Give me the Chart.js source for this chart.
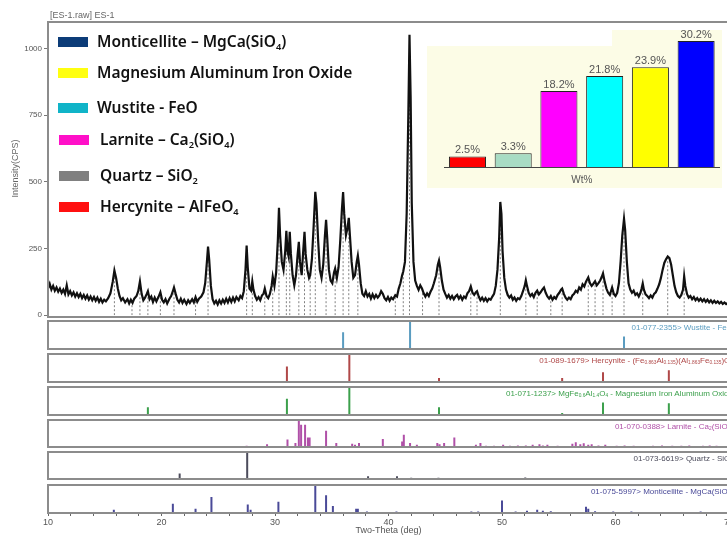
<!DOCTYPE html>
<html>
<head>
<meta charset="utf-8">
<script src="https://cdn.jsdelivr.net/npm/chart.js@4.4.1/dist/chart.umd.min.js"></script>
<style>
  html, body { margin: 0; padding: 0; background: #fff; width: 727px; height: 538px; overflow: hidden; }
  #wrap { position: relative; width: 760px; height: 538px; }
  canvas { position: absolute; }
  .legend-row { position: absolute; height: 20px; line-height: 20px; font-family: "Noto Sans", sans-serif; font-weight: 600; font-size: 15.5px; color: #111; white-space: nowrap; }
  .legend-box { position: absolute; width: 30px; height: 10px; }
  .ref-label { position: absolute; right: 27px; font-family: "Liberation Sans", Arial, sans-serif; font-size: 8px; white-space: nowrap; line-height: 10px; }
  .frame { position: absolute; left: 47px; width: 682px; box-sizing: border-box; border: 2px solid #8c8c8c; pointer-events: none; }
  sub { font-size: 0.6em; vertical-align: -0.3em; line-height: 0; }
  #title { position: absolute; left: 50px; top: 10px; font-family: "Liberation Sans", Arial, sans-serif; font-size: 9px; color: #666; }
</style>
</head>
<body>
<div id="wrap">
  <canvas id="main" width="760" height="322" style="left:0;top:0"></canvas>
  <canvas id="p0" width="760" height="30" style="left:0;top:320px"></canvas>
  <canvas id="p1" width="760" height="30" style="left:0;top:353px"></canvas>
  <canvas id="p2" width="760" height="30" style="left:0;top:386px"></canvas>
  <canvas id="p3" width="760" height="29" style="left:0;top:419px"></canvas>
  <canvas id="p4" width="760" height="29" style="left:0;top:451px"></canvas>
  <canvas id="p5" width="760" height="54" style="left:0;top:484px"></canvas>
  <canvas id="inset" width="295" height="158" style="left:427px;top:30px"></canvas>
  <div id="title">[ES-1.raw] ES-1</div>
</div>
<script>
// Measured pattern: [two-theta (deg), intensity (CPS)]
const spectrum = [
  [10.0,100],[10.15,118],[10.3,96],[10.45,110],[10.6,92],[10.75,104],[10.9,88],[11.05,100],[11.2,84],[11.35,96],
  [11.5,80],[11.65,112],[11.8,78],[11.95,90],[12.1,74],[12.25,86],[12.4,70],[12.55,82],[12.7,68],[12.85,80],
  [13.0,64],[13.15,76],[13.3,62],[13.45,74],[13.6,58],[13.75,70],[13.9,56],[14.05,68],[14.2,54],[14.35,66],
  [14.5,50],[14.65,62],[14.8,48],[14.95,58],[15.1,52],[15.3,64],[15.5,82],[15.7,125],[15.85,168],[16.0,140],
  [16.15,100],[16.3,72],[16.45,56],[16.6,64],[16.8,48],[17.0,60],[17.15,44],[17.3,58],[17.45,46],[17.6,62],
  [17.8,72],[17.95,90],[18.1,127],[18.25,80],[18.4,56],[18.55,66],[18.7,80],[18.8,90],[18.95,60],[19.1,70],
  [19.25,50],[19.4,66],[19.55,52],[19.75,70],[19.9,86],[20.05,58],[20.2,48],[20.35,60],[20.5,44],[20.7,62],
  [20.85,72],[21.0,90],[21.1,104],[21.25,80],[21.4,58],[21.55,48],[21.7,62],[21.85,46],[22.0,58],[22.2,42],
  [22.35,56],[22.5,46],[22.7,60],[22.85,48],[23.0,68],[23.15,50],[23.3,62],[23.5,70],[23.7,86],[23.85,120],
  [24.0,200],[24.1,257],[24.2,210],[24.35,110],[24.5,60],[24.65,44],[24.8,54],[24.95,40],[25.1,56],[25.25,44],
  [25.4,58],[25.55,46],[25.7,62],[25.85,48],[26.0,64],[26.15,50],[26.3,66],[26.45,52],[26.6,68],[26.8,56],
  [26.95,72],[27.1,64],[27.25,90],[27.4,170],[27.5,261],[27.6,180],[27.75,100],[27.9,92],[28.0,127],[28.1,96],
  [28.25,72],[28.4,58],[28.55,68],[28.7,56],[28.85,74],[29.0,82],[29.1,100],[29.25,72],[29.4,64],[29.55,80],
  [29.7,110],[29.8,145],[29.95,110],[30.1,160],[30.25,280],[30.35,403],[30.45,300],[30.6,200],[30.75,170],[30.9,240],
  [31.0,317],[31.1,240],[31.2,220],[31.3,313],[31.4,230],[31.55,150],[31.7,112],[31.85,150],[32.0,230],[32.1,275],
  [32.2,200],[32.35,150],[32.5,250],[32.6,313],[32.7,230],[32.85,170],[33.0,140],[33.1,150],[33.25,210],[33.4,330],
  [33.55,463],[33.65,420],[33.8,280],[33.95,170],[34.1,140],[34.25,190],[34.4,300],[34.5,358],[34.6,290],[34.75,170],
  [34.9,130],[35.05,120],[35.2,160],[35.3,175],[35.45,140],[35.6,180],[35.75,280],[35.9,400],[36.0,462],[36.1,380],
  [36.25,300],[36.4,330],[36.5,365],[36.6,300],[36.75,200],[36.9,140],[37.05,150],[37.2,200],[37.3,224],[37.4,190],
  [37.55,120],[37.7,80],[37.85,72],[38.0,90],[38.15,70],[38.3,80],[38.45,62],[38.6,78],[38.75,64],[38.9,76],
  [39.05,66],[39.2,74],[39.35,90],[39.5,80],[39.65,64],[39.8,56],[39.95,68],[40.1,54],[40.25,66],[40.4,60],
  [40.6,75],[40.75,70],[40.9,100],[41.05,120],[41.2,150],[41.3,164],[41.45,200],[41.6,380],[41.75,760],[41.85,1052],
  [41.95,820],[42.05,420],[42.2,200],[42.35,130],[42.5,110],[42.65,95],[42.8,112],[42.95,100],[43.1,82],[43.25,70],
  [43.4,82],[43.55,72],[43.7,88],[43.85,100],[44.0,120],[44.2,150],[44.35,190],[44.45,205],[44.55,180],[44.7,130],
  [44.85,96],[45.0,80],[45.15,66],[45.3,76],[45.45,62],[45.6,72],[45.75,60],[45.9,70],[46.05,76],[46.2,62],
  [46.35,72],[46.5,58],[46.65,70],[46.8,64],[46.95,82],[47.1,90],[47.25,108],[47.4,84],[47.55,76],[47.7,86],
  [47.8,90],[47.95,70],[48.1,56],[48.25,66],[48.4,54],[48.55,64],[48.7,52],[48.85,62],[49.0,58],[49.15,70],
  [49.3,80],[49.45,110],[49.6,170],[49.75,290],[49.85,425],[49.95,380],[50.05,240],[50.2,140],[50.35,96],[50.5,76],
  [50.65,66],[50.8,74],[50.95,58],[51.1,66],[51.25,54],[51.4,64],[51.55,60],[51.7,72],[51.85,90],[52.0,110],
  [52.1,131],[52.2,110],[52.35,84],[52.5,72],[52.65,80],[52.8,68],[52.95,84],[53.1,92],[53.25,78],[53.4,86],
  [53.55,96],[53.7,104],[53.85,84],[54.0,70],[54.15,62],[54.3,72],[54.45,58],[54.6,68],[54.75,62],[54.9,76],
  [55.05,84],[55.2,96],[55.3,100],[55.45,80],[55.6,66],[55.75,58],[55.9,66],[56.05,60],[56.2,74],[56.35,80],
  [56.5,92],[56.65,86],[56.8,104],[56.95,96],[57.1,116],[57.25,108],[57.4,126],[57.6,142],[57.75,120],[57.9,110],
  [58.05,118],[58.2,127],[58.35,112],[58.5,120],[58.65,130],[58.8,145],[58.9,157],[59.05,125],[59.2,100],[59.35,84],
  [59.5,76],[59.6,90],[59.7,104],[59.85,80],[60.0,72],[60.15,84],[60.3,120],[60.45,200],[60.6,300],[60.75,362],
  [60.85,320],[61.0,200],[61.15,120],[61.3,96],[61.45,84],[61.6,92],[61.75,76],[61.9,82],[62.05,70],[62.2,84],
  [62.3,100],[62.4,119],[62.5,96],[62.65,78],[62.8,72],[62.95,64],[63.1,74],[63.25,66],[63.4,80],[63.55,86],
  [63.7,100],[63.85,116],[64.0,140],[64.15,170],[64.3,196],[64.45,210],[64.6,220],[64.75,214],[64.9,190],[65.05,150],
  [65.2,110],[65.35,86],[65.5,72],[65.65,66],[65.8,76],[65.95,96],[66.05,146],[66.15,110],[66.3,80],[66.45,66],
  [66.6,72],[66.75,60],[66.9,68],[67.05,56],[67.2,64],[67.35,54],[67.5,62],[67.65,52],[67.8,60],[67.95,50],
  [68.1,58],[68.25,48],[68.4,56],[68.55,46],[68.7,54],[68.85,46],[69.0,52],[69.15,44],[69.3,50],[69.45,42],
  [69.6,48],[69.75,42],[69.9,46],[70.0,44]
];

// Identified peak markers (dotted lines)
const peakPos = [15.85, 17.4, 18.1, 18.8, 19.9, 21.1, 23.0, 24.1, 27.5, 28.0, 29.1, 29.8, 30.35, 31.0, 31.3, 32.1, 32.6, 33.1, 33.55, 34.5, 35.3, 36.0, 36.5, 37.3, 40.6, 41.3, 41.85, 43.0, 44.45, 47.25, 47.8, 49.85, 52.1, 53.1, 54.3, 55.3, 57.6, 58.2, 58.9, 59.7, 60.75, 62.4, 64.6, 66.05];
const peakTop = [165, 50, 125, 88, 85, 100, 65, 255, 260, 125, 98, 143, 400, 315, 310, 272, 310, 148, 460, 355, 172, 460, 362, 222, 73, 162, 1050, 98, 203, 106, 88, 422, 129, 90, 70, 98, 140, 125, 155, 102, 360, 117, 218, 144];

// Reference stick patterns (relative intensity %)
const wustitePos = [36.0, 41.9, 60.75];
const wustiteRel = [60, 100, 45];
const hercynitePos = [18.8, 31.05, 36.55, 44.45, 48.75, 55.3, 58.9, 64.7];
const hercyniteRel = [3, 55, 100, 14, 4, 14, 35, 42];
const mgAlFePos = [18.8, 31.05, 36.55, 44.45, 48.75, 55.3, 58.9, 64.7];
const mgAlFeRel = [28, 58, 100, 28, 3, 7, 45, 42];
const larnitePos = [18.1, 19.2, 23.2, 23.6, 26.5, 27.5, 28.1, 29.3, 31.1, 31.8, 32.1, 32.3, 32.65, 32.9, 33.05, 34.5, 35.4, 36.0, 36.8, 37.05, 37.4, 38.8, 39.0, 39.5, 41.2, 41.35, 41.9, 42.5, 43.3, 43.5, 44.3, 44.5, 44.9, 45.8, 47.7, 48.1, 48.6, 49.3, 50.1, 50.7, 51.4, 52.1, 52.7, 53.3, 53.6, 54.0, 54.9, 56.2, 56.5, 56.9, 57.2, 57.6, 57.9, 58.5, 59.1, 60.1, 60.8, 61.6, 63.3, 64.1, 65.0, 65.8, 66.5, 67.7, 68.3, 68.9, 69.5];
const larniteRel = [4, 4, 4, 4, 4, 5, 4, 10, 28, 15, 100, 82, 82, 35, 35, 60, 15, 3, 12, 8, 15, 3, 3, 30, 20, 45, 15, 8, 4, 4, 15, 10, 15, 35, 8, 15, 5, 5, 8, 5, 6, 6, 8, 10, 6, 8, 5, 12, 18, 10, 14, 8, 10, 6, 8, 5, 6, 5, 5, 6, 5, 5, 6, 5, 6, 5, 4];
const quartzPos = [21.6, 27.55, 38.2, 40.75, 42.0, 44.4, 47.8, 52.05, 57.1, 61.9, 66.4];
const quartzRel = [20, 100, 10, 10, 5, 5, 3, 6, 4, 3, 3];
const monticellitePos = [15.8, 21.0, 22.0, 23.0, 24.4, 26.0, 27.6, 27.85, 30.3, 32.1, 33.55, 34.5, 35.1, 36.1, 37.15, 37.3, 38.1, 40.7, 42.1, 43.2, 44.0, 44.8, 45.9, 47.3, 47.9, 50.0, 51.2, 52.2, 53.1, 53.6, 54.3, 56.0, 57.4, 57.6, 58.2, 59.8, 61.4, 62.6, 63.5, 64.3, 65.0, 65.8, 66.6, 67.5, 68.0, 68.8];
const monticelliteRel = [12, 33, 4, 15, 57, 4, 30, 12, 40, 4, 100, 63, 25, 4, 15, 15, 5, 5, 3, 3, 3, 3, 3, 5, 5, 45, 5, 8, 12, 8, 6, 3, 22, 15, 6, 5, 5, 3, 3, 3, 4, 4, 3, 5, 4, 3];

const panelPos = [wustitePos, hercynitePos, mgAlFePos, larnitePos, quartzPos, monticellitePos];
const panelRel = [wustiteRel, hercyniteRel, mgAlFeRel, larniteRel, quartzRel, monticelliteRel];
const panelColors = ["#5a9cc0", "#b04848", "#3ca04c", "#b050a8", "#4c4c5c", "#4a4a98"];
const panelLabels = [
  "01-077-2355&gt; Wustite - FeO",
  "01-089-1679&gt; Hercynite - (Fe<sub>0.863</sub>Al<sub>0.135</sub>)(Al<sub>1.863</sub>Fe<sub>0.135</sub>)O<sub>4</sub>",
  "01-071-1237&gt; MgFe<sub>0.6</sub>Al<sub>1.4</sub>O<sub>4</sub> - Magnesium Iron Aluminum Oxide",
  "01-070-0388&gt; Larnite - Ca<sub>2</sub>(SiO<sub>4</sub>)",
  "01-073-6619&gt; Quartz - SiO<sub>2</sub>",
  "01-075-5997&gt; Monticellite - MgCa(SiO<sub>4</sub>)"
];
const panelTops = [320, 353, 386, 419, 451, 484];
const panelHeights = [30, 30, 30, 29, 29, 30];

// Phase legend
const legendNames = [
  "Monticellite – MgCa(SiO<sub>4</sub>)",
  "Magnesium Aluminum Iron Oxide",
  "Wustite - FeO",
  "Larnite – Ca<sub>2</sub>(SiO<sub>4</sub>)",
  "Quartz – SiO<sub>2</sub>",
  "Hercynite – AlFeO<sub>4</sub>"
];
const legendColors = ["#0c3c78", "#ffff10", "#10b4c8", "#ff10c8", "#808080", "#ff1010"];
const legendY = [42, 73, 108, 140, 176, 207];

// Inset: phase fractions (Wt%)
const phaseNames = ["Hercynite", "Quartz", "Larnite", "Wustite", "Mg Al Fe Oxide", "Monticellite"];
const phaseWt = [2.5, 3.3, 18.2, 21.8, 23.9, 30.2];
const phaseColors = ["#ff0000", "#a8dcc4", "#ff00ff", "#00ffff", "#ffff00", "#0000ff"];

const FONT = "Liberation Sans";
const wrap = document.getElementById("wrap");

function sticks(pos, h) {
  const pts = [];
  pos.forEach((p, i) => {
    pts.push({ x: p, y: 0 }, { x: p, y: h[i] }, { x: p, y: null });
  });
  return pts;
}

function addFrame(top, height) {
  const f = document.createElement("div");
  f.className = "frame";
  f.style.top = top + "px";
  f.style.height = height + "px";
  wrap.appendChild(f);
}

// Main pattern
new Chart(document.getElementById("main"), {
  type: "line",
  data: {
    datasets: [
      {
        data: spectrum.map((d) => ({ x: d[0], y: d[1] })),
        borderColor: "#111",
        borderWidth: 2.2,
        pointRadius: 0,
        tension: 0,
        order: 1
      },
      {
        data: sticks(peakPos, peakTop),
        borderColor: "#808080",
        borderWidth: 1,
        borderDash: [2, 2],
        pointRadius: 0,
        spanGaps: false,
        order: 2
      }
    ]
  },
  options: {
    responsive: false,
    animation: false,
    layout: { padding: { top: 22, right: 31, bottom: 5, left: 0 } },
    plugins: { legend: { display: false }, tooltip: { enabled: false } },
    scales: {
      x: { type: "linear", min: 10, max: 70, display: false },
      y: {
        min: 0,
        max: 1100,
        afterFit: (s) => { s.width = 48; },
        afterBuildTicks: (s) => { s.ticks = s.ticks.filter((t) => t.value % 250 === 0); },
        ticks: { stepSize: 250, font: { size: 8, family: FONT }, color: "#555", padding: 2, callback: (v) => String(v) },
        grid: { drawOnChartArea: false, tickLength: 4, color: "#777" },
        border: { display: false },
        title: { display: true, text: "Intensity(CPS)", font: { size: 9, family: FONT }, color: "#666", padding: { top: 10, bottom: 0 } }
      }
    }
  }
});
addFrame(21, 297);

// Reference panels
panelPos.forEach((pos, i) => {
  const last = i === panelPos.length - 1;
  new Chart(document.getElementById("p" + i), {
    type: "line",
    data: {
      datasets: [{
        data: sticks(pos, panelRel[i]),
        borderColor: panelColors[i],
        borderWidth: 2,
        pointRadius: 0,
        spanGaps: false
      }]
    },
    options: {
      responsive: false,
      animation: false,
      layout: { padding: { top: 1, right: 31, bottom: last ? 0 : 1, left: 48 } },
      plugins: { legend: { display: false }, tooltip: { enabled: false } },
      scales: {
        x: {
          type: "linear",
          min: 10,
          max: 70,
          display: last,
          afterFit: (s) => { if (last) s.height = 25; },
          ticks: {
            stepSize: 2,
            autoSkip: false,
            maxRotation: 0,
            padding: 1,
            font: { size: 9, family: FONT },
            color: "#555",
            callback: (v) => (v % 10 === 0 ? v : "")
          },
          grid: { drawOnChartArea: false, tickLength: 3, color: "#666" },
          border: { display: false },
          title: { display: true, text: "Two-Theta (deg)", font: { size: 9, family: FONT }, color: "#555", padding: 2 }
        },
        y: { min: 0, max: 100, display: false }
      }
    }
  });
  addFrame(panelTops[i], panelHeights[i]);

  const lab = document.createElement("div");
  lab.className = "ref-label";
  lab.style.top = panelTops[i] + 3 + "px";
  lab.style.color = panelColors[i];
  lab.innerHTML = panelLabels[i];
  wrap.appendChild(lab);
});

// Inset bar chart
const insetBg = {
  id: "insetBg",
  beforeDraw(chart) {
    const { ctx, width, height } = chart;
    ctx.save();
    ctx.fillStyle = "#fcfce6";
    ctx.fillRect(0, 16, width, height - 16);
    ctx.fillRect(185, 0, width - 185, 16);
    ctx.restore();
  }
};
const valueLabels = {
  id: "valueLabels",
  afterDatasetsDraw(chart) {
    const { ctx } = chart;
    const meta = chart.getDatasetMeta(0);
    ctx.save();
    ctx.font = "11px " + FONT;
    ctx.fillStyle = "#555";
    ctx.textAlign = "center";
    ctx.textBaseline = "bottom";
    meta.data.forEach((bar, i) => {
      ctx.fillText(phaseWt[i].toFixed(1) + "%", bar.x, bar.y - 1);
    });
    ctx.restore();
  }
};
new Chart(document.getElementById("inset"), {
  type: "bar",
  data: {
    labels: phaseNames,
    datasets: [{
      data: phaseWt,
      backgroundColor: phaseColors,
      borderColor: "#222",
      borderWidth: 1,
      borderSkipped: "bottom",
      barPercentage: 0.9,
      categoryPercentage: 0.9
    }]
  },
  options: {
    responsive: false,
    animation: false,
    layout: { padding: { top: 3.5, right: 3, bottom: 0, left: 17.6 } },
    plugins: { legend: { display: false }, tooltip: { enabled: false } },
    scales: {
      x: {
        afterFit: (s) => { s.height = 21; },
        ticks: { display: false },
        grid: { display: false },
        border: { display: true, color: "#444", width: 1 },
        title: { display: true, text: "Wt%", font: { size: 10, family: FONT }, color: "#555", padding: { top: 4, bottom: 2 } }
      },
      y: { min: 0, max: 32, display: false }
    }
  },
  plugins: [insetBg, valueLabels]
});
// keep the inset above the main frame
wrap.appendChild(document.getElementById("inset"));

// Legend
legendNames.forEach((name, i) => {
  const box = document.createElement("div");
  box.className = "legend-box";
  box.style.left = (i < 3 ? 58 : 59) + "px";
  box.style.top = legendY[i] - 5 + "px";
  box.style.background = legendColors[i];
  const row = document.createElement("div");
  row.className = "legend-row";
  row.style.left = (i < 3 ? 97 : 100) + "px";
  row.style.top = legendY[i] - 11 + "px";
  row.innerHTML = "<span>" + name + "</span>";
  wrap.appendChild(box);
  wrap.appendChild(row);
});
</script>
</body>
</html>
